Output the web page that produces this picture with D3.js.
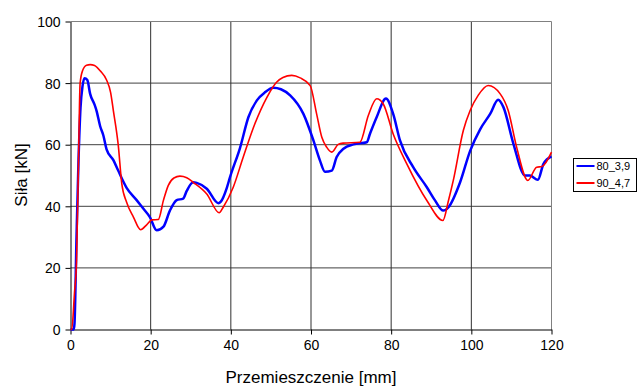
<!DOCTYPE html>
<html>
<head>
<meta charset="utf-8">
<script src="https://cdn.jsdelivr.net/npm/d3@7"></script>
<style>
  body { margin: 0; background: #fff; }
  svg { display: block; font-family: "Liberation Sans", Arial, sans-serif; }
</style>
</head>
<body>
<div id="chart"></div>
<script>
// displacement [mm] / force [kN] pairs
const series80x = [0, 0.8, 1.0, 1.5, 2.0, 2.5, 3.0, 3.5, 4.2, 4.9, 6.0, 6.5, 7.4, 8.2, 9.0, 10.7, 11.9, 14.0, 16.5, 18.0, 19.8, 21.5, 23.2, 24.8, 26.5, 28.1, 29.0, 30.6, 31.5, 34.0, 36.9, 37.5, 39.0, 39.8, 42.3, 44.4, 46.5, 48.5, 50.6, 52.5, 54.8, 58.1, 60.6, 62.2, 63.5, 65.2, 66.4, 68.1, 70.6, 73.9, 74.7, 76.4, 78.7, 80.5, 82.2, 85.5, 88.9, 90.9, 93.0, 94.3, 97.2, 99.7, 102.2, 104.7, 106.7, 108.0, 110.5, 113.4, 114.6, 116.6, 118.0, 120.0];
const series80y = [0, 0, 2, 30, 55, 72, 79, 81.6, 81, 76.5, 73, 71, 66, 63, 58.5, 55, 51.6, 46, 42, 39.5, 36.5, 32.2, 33.4, 38.6, 42, 42.5, 45, 47.8, 47.6, 45.7, 41, 41.5, 46, 49.5, 59, 69, 74.4, 77, 78.5, 78, 76, 70, 61.4, 55, 51.2, 51.6, 56, 58.7, 60.1, 60.8, 63.5, 69, 75, 70, 61.4, 52.7, 46.2, 42, 38.6, 39.7, 47.8, 58, 65, 70, 74.6, 72.2, 60.3, 50, 50, 48.6, 53.8, 56.2];

const series90x = [0, 0.3, 1.0, 1.5, 2.0, 2.4, 3.0, 4.0, 4.9, 6.0, 7.4, 9.0, 10.0, 10.7, 11.9, 12.8, 14.0, 15.7, 17.5, 19.0, 20.3, 21.9, 23.2, 24.4, 25.8, 27.3, 29.0, 30.6, 34.0, 37.1, 38.1, 40.6, 43.1, 46.0, 49.0, 51.4, 53.0, 55.2, 57.3, 59.8, 61.4, 62.7, 63.9, 65.2, 66.8, 68.0, 72.2, 74.3, 76.4, 78.0, 80.5, 83.9, 88.9, 92.9, 94.3, 95.5, 98.0, 99.7, 101.7, 104.2, 107.2, 109.2, 111.3, 114.1, 116.3, 117.6, 120.0];
const series90y = [0, 0, 12, 22, 55, 80, 84, 85.8, 86, 85.7, 84, 81, 77, 71, 60, 47.3, 41.3, 36.5, 32.4, 34, 35.6, 35.7, 42, 46.8, 49.2, 49.8, 49.3, 47.8, 44, 37.9, 39.7, 46.2, 56, 66.8, 75.4, 80.3, 81.8, 82.5, 81.7, 79.2, 70, 62.4, 59.2, 57.6, 60.1, 60.5, 60.8, 69.5, 74.9, 73.3, 63.5, 53.8, 41.9, 35.4, 41.9, 48.4, 64.6, 71.1, 76, 79.2, 76.5, 71.1, 59.2, 48.4, 52.7, 52.9, 57.6];

const seriesNames = ["80_3,9", "90_4,7"];
const seriesColors = ["#0000ff", "#ff0000"];
const seriesWidths = [2.5, 1.6];
const xTicks = [0, 20, 40, 60, 80, 100, 120];
const yTicks = [0, 20, 40, 60, 80, 100];

const width = 637, height = 387;
const plot = { left: 70.5, right: 551.5, top: 21.5, bottom: 329.5 };

const svg = d3.select("#chart").append("svg")
    .attr("width", width)
    .attr("height", height);

const x = d3.scaleLinear().domain([0, 120]).range([plot.left, plot.right]);
const y = d3.scaleLinear().domain([0, 100]).range([plot.bottom, plot.top]);

// grid
svg.append("g")
    .selectAll("line")
    .data(yTicks.filter(t => t > 0 && t < 100))
    .join("line")
    .attr("x1", plot.left).attr("x2", plot.right)
    .attr("y1", d => y(d)).attr("y2", d => y(d))
    .attr("stroke", "#404040");

svg.append("g")
    .selectAll("line")
    .data(xTicks.filter(t => t > 0 && t < 120))
    .join("line")
    .attr("y1", plot.top).attr("y2", plot.bottom)
    .attr("x1", d => x(d)).attr("x2", d => x(d))
    .attr("stroke", "#303030");

// top and right frame
svg.append("path")
    .attr("d", `M${plot.left},${plot.top}H${plot.right}V${plot.bottom}`)
    .attr("fill", "none")
    .attr("stroke", "#808080");

// axes
const xAxis = svg.append("g")
    .attr("transform", `translate(0,${plot.bottom})`)
    .call(d3.axisBottom(x).tickValues(xTicks).tickSize(5).tickSizeOuter(0).tickPadding(6));
const yAxis = svg.append("g")
    .attr("transform", `translate(${plot.left},0)`)
    .call(d3.axisLeft(y).tickValues(yTicks).tickSize(5).tickSizeOuter(0).tickPadding(5));

[xAxis, yAxis].forEach(a => {
    a.select(".domain").attr("stroke", "#000");
    a.selectAll(".tick line").attr("stroke", "#000");
    a.selectAll(".tick text")
        .attr("fill", "#000")
        .style("font-size", "14px")
        .style("font-family", "'Liberation Sans', Arial, sans-serif");
});
yAxis.selectAll(".tick text").attr("dy", "0.36em");

// curves, blue first so red sits on top
const line = d3.line()
    .x(d => x(d[0]))
    .y(d => y(d[1]))
    .curve(d3.curveMonotoneX);

const seriesData = [
    series80x.map((v, i) => [v, series80y[i]]),
    series90x.map((v, i) => [v, series90y[i]])
];

seriesData.forEach((data, i) => {
    svg.append("path")
        .datum(data)
        .attr("d", line)
        .attr("fill", "none")
        .attr("stroke", seriesColors[i])
        .attr("stroke-width", seriesWidths[i]);
});

// axis titles
svg.append("text")
    .attr("x", (plot.left + plot.right) / 2)
    .attr("y", 383)
    .attr("text-anchor", "middle")
    .style("font-size", "17px")
    .text("Przemieszczenie [mm]");

svg.append("text")
    .attr("transform", "translate(27,175) rotate(-90)")
    .attr("text-anchor", "middle")
    .style("font-size", "17px")
    .text("Siła [kN]");

// legend
const legend = svg.append("g").attr("transform", "translate(573.5,158.5)");
legend.append("rect")
    .attr("width", 63).attr("height", 33)
    .attr("fill", "#fff")
    .attr("stroke", "#000");
seriesNames.forEach((name, i) => {
    const g = legend.append("g").attr("transform", `translate(0,${7.5 + i * 17})`);
    g.append("line")
        .attr("x1", 3).attr("x2", 21)
        .attr("stroke", seriesColors[i])
        .attr("stroke-width", 2);
    g.append("text")
        .attr("x", 23)
        .attr("dy", "0.36em")
        .style("font-size", "11px")
        .text(name);
});
</script>
</body>
</html>
